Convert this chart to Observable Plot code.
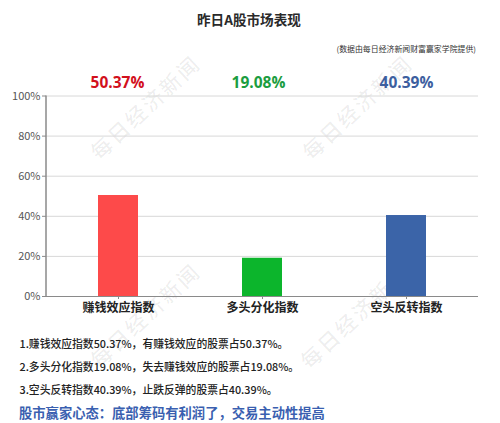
<!DOCTYPE html>
<html><head><meta charset="utf-8">
<script src="https://cdn.jsdelivr.net/npm/d3@7"></script>
<script src="https://cdn.jsdelivr.net/npm/@observablehq/plot@0.6"></script>
<style>
html,body{margin:0;padding:0;background:#fff;width:500px;height:423px;overflow:hidden;font-family:"Noto Sans CJK SC","Open Sans",sans-serif}
#page{position:relative;width:500px;height:423px}
.t{position:absolute;white-space:nowrap;line-height:1}
#chart{position:absolute;left:0;top:60px}
svg{display:block}
.wm{position:absolute;white-space:nowrap;line-height:1;font-family:"Noto Sans CJK SC",serif;font-size:21px;font-weight:500;letter-spacing:2.5px;color:rgba(0,0,0,.07);transform:translate(-50%,-50%) rotate(-43deg)}
</style></head><body>
<div id="page"></div>
<script>
const categories = ["赚钱效应指数","多头分化指数","空头反转指数"];
const values = [50.37,19.08,40.39];
const barColors = ["#fd4a4a","#0cb52c","#3b64a8"];
const labelColors = ["#d2101c","#1b9d40","#3d5f9f"];
const labelShift = [-1,-4,0];
const yTicks = [0,20,40,60,80,100];
const titleText = "昨日A股市场表现";
const subtitleText = "(数据由每日经济新闻财富赢家学院提供)";
const notes = ["1.赚钱效应指数50.37%，有赚钱效应的股票占50.37%。","2.多头分化指数19.08%，失去赚钱效应的股票占19.08%。","3.空头反转指数40.39%，止跌反弹的股票占40.39%。"];
const conclusion = "股市赢家心态：底部筹码有利润了，交易主动性提高";
const watermark = "每日经济新闻";
const rows = categories.map((c,i)=>({c,v:values[i],bar:barColors[i],label:labelColors[i],text:values[i].toFixed(2)+"%",shift:labelShift[i]}));
const font = '"Noto Sans CJK SC",sans-serif';

const page = document.getElementById("page");
function addText(s,css){const d=document.createElement("div");d.className="t";d.textContent=s;d.style.cssText=css;page.appendChild(d);}
[[145,107],[357,107],[145,315],[355,316]].forEach(([x,y])=>{
  const d=document.createElement("div");d.className="wm";d.textContent=watermark;d.style.left=x+"px";d.style.top=y+"px";page.appendChild(d);
});
addText(titleText,"left:197px;top:13px;font-size:13.6px;font-weight:700;color:#2a2a2a");
addText(subtitleText,"right:24px;top:45px;font-size:7.9px;color:#333");
notes.forEach((s,i)=>addText(s,`left:19.5px;top:${[337.5,360.5,383.5][i]}px;font-size:10.8px;font-weight:500;color:#222`));
addText(conclusion,"left:19px;top:406px;font-size:13.3px;font-weight:700;color:#3a5fb0");

const plot = Plot.plot({
  width:500,height:262,
  marginLeft:46,marginRight:22,marginTop:35.5,marginBottom:26,
  style:{background:"transparent",fontFamily:font},
  x:{domain:categories,padding:0,label:null,axis:null},
  y:{domain:[0,100],label:null,axis:null},
  marks:[
    Plot.ruleY(yTicks.filter(d=>d>0),{stroke:"#d8d8d8",strokeWidth:1}),
    Plot.barY(rows,{x:"c",y:"v",fill:"bar",insetLeft:52,insetRight:52}),
    Plot.ruleY([0],{stroke:"#8a8a8a",strokeWidth:1}),
    Plot.axisY({ticks:yTicks,tickFormat:d=>d+"%",tickSize:4,tickPadding:2,stroke:"#8a8a8a",fontSize:11,color:"#555",label:null,anchor:"left"}),
    Plot.axisX({tickSize:3,tickPadding:4,stroke:"#8a8a8a",fontSize:12,fontWeight:600,color:"#222",label:null,anchor:"bottom"}),
    ...rows.map(r=>Plot.text([r],{x:"c",y:()=>100,text:"text",dx:r.shift,dy:-12.5,fill:"label",fontSize:15.5,fontWeight:700,fontFamily:'"Open Sans",sans-serif'}))
  ]
});
d3.select(plot).append("line").attr("x1",46).attr("x2",46).attr("y1",35.5).attr("y2",236).attr("stroke","#8a8a8a").attr("stroke-width",1.5);
const wrap=document.createElement("div");wrap.id="chart";wrap.appendChild(plot);page.appendChild(wrap);
</script>
</body></html>
